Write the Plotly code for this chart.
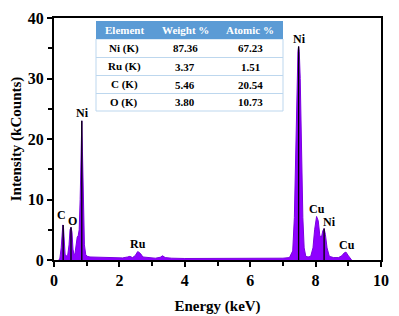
import plotly.graph_objects as go

# Spectrum
energy = [0.15, 0.18, 0.22, 0.25, 0.27, 0.29, 0.31, 0.34, 0.38, 0.42, 0.46, 0.49, 0.52, 0.55,
          0.58, 0.61, 0.64, 0.68, 0.71, 0.74, 0.77, 0.80, 0.83, 0.85, 0.87, 0.90, 0.93, 0.97,
          1.02, 1.10, 1.30, 1.50, 1.70, 1.90, 2.10, 2.25, 2.32, 2.40, 2.48, 2.56, 2.64, 2.72,
          2.90, 3.10, 3.25, 3.32, 3.40, 3.60, 4.00, 4.50, 5.00, 5.50, 5.75, 6.00, 6.50, 7.00,
          7.20, 7.30, 7.35, 7.40, 7.43, 7.46, 7.48, 7.50, 7.53, 7.57, 7.61, 7.65, 7.70, 7.77,
          7.85, 7.92, 7.97, 8.03, 8.08, 8.13, 8.18, 8.22, 8.26, 8.30, 8.35, 8.42, 8.55, 8.70,
          8.80, 8.88, 8.93, 8.99, 9.05, 9.10]
intensity = [0.0, 0.3, 2.0, 5.0, 5.8, 5.4, 3.0, 0.9, 0.7, 0.8, 2.5, 5.0, 5.4, 4.6,
             1.8, 0.9, 1.0, 2.5, 3.8, 4.0, 5.0, 10.0, 19.0, 23.0, 18.0, 8.0, 2.5, 0.9,
             0.6, 0.5, 0.45, 0.4, 0.4, 0.35, 0.35, 0.5, 0.6, 0.4, 0.7, 1.4, 1.1, 0.5,
             0.35, 0.3, 0.45, 0.7, 0.4, 0.3, 0.25, 0.25, 0.25, 0.25, 0.35, 0.25, 0.25, 0.3,
             0.4, 1.5, 7.0, 20.0, 30.0, 34.5, 35.3, 34.5, 30.0, 18.0, 7.0, 2.0, 0.6, 0.5,
             0.6, 2.0, 5.0, 7.2, 6.5, 4.0, 3.8, 4.8, 5.2, 4.2, 2.0, 0.6, 0.4, 0.4,
             0.7, 1.2, 1.3, 0.8, 0.3, 0.0]

# Reference line positions (keV) and heights (kCounts)
stick_energy = [0.28, 0.52, 0.85, 7.48, 8.26]
stick_height = [5.8, 5.4, 23.0, 35.3, 5.2]

# Peak labels
label_text = ["C", "O", "Ni", "Ru", "Ni", "Cu", "Ni", "Cu"]
label_x = [0.23, 0.58, 0.88, 2.58, 7.50, 8.05, 8.42, 8.95]
label_y = [7.4, 6.5, 24.3, 2.6, 36.5, 8.4, 6.2, 2.5]

# Table
table_header = ["Element", "Weight %", "Atomic %"]
table_element = ["Ni (K)", "Ru (K)", "C (K)", "O (K)"]
table_weight = ["87.36", "3.37", "5.46", "3.80"]
table_atomic = ["67.23", "1.51", "20.54", "10.73"]

FONT = "Liberation Serif"
PURPLE = "#8F00FF"

# page offset (body margin) compensation
W, H = 391, 308
ML, MR, MT, MB = 46, 18, 10, 56
PW, PH = W - ML - MR, H - MT - MB
OFF = 8


def px_x(p):  # page pixel -> paper x
    return (p - OFF - ML) / PW


def px_y(p):  # page pixel -> paper y
    return (H - MB - (p - OFF)) / PH


fig = go.Figure()

fig.add_trace(go.Scatter(
    x=energy, y=intensity, mode="lines", fill="tozeroy",
    fillcolor=PURPLE, line=dict(color="#7A00E0", width=1), hoverinfo="skip",
))

sx, sy = [], []
for e, h in zip(stick_energy, stick_height):
    sx += [e, e, None]
    sy += [0, h, None]
fig.add_trace(go.Scatter(x=sx, y=sy, mode="lines",
                         line=dict(color="black", width=1.3), hoverinfo="skip"))

for t, x, y in zip(label_text, label_x, label_y):
    fig.add_annotation(x=x, y=y, text=t, showarrow=False,
                       xanchor="center", yanchor="middle",
                       font=dict(family=FONT, size=12, color="black", weight="bold"))

# ---- table drawn with shapes + annotations ----
col_edges = [96, 152, 218, 283]
row_edges = [21, 39, 57.5, 75.5, 93.5, 111]
columns = [table_element, table_weight, table_atomic]
LINE = "#BDD7EE"

fig.add_shape(type="rect", xref="paper", yref="paper",
              x0=px_x(col_edges[0]), x1=px_x(col_edges[-1]),
              y0=px_y(row_edges[-1]), y1=px_y(row_edges[1]),
              fillcolor="white", line=dict(color=LINE, width=1), layer="above")
fig.add_shape(type="rect", xref="paper", yref="paper",
              x0=px_x(col_edges[0]), x1=px_x(col_edges[-1]),
              y0=px_y(row_edges[1]), y1=px_y(row_edges[0]),
              fillcolor="#5B9BD5", line=dict(width=0), layer="above")
for r in row_edges[2:-1]:
    fig.add_shape(type="line", xref="paper", yref="paper",
                  x0=px_x(col_edges[0]), x1=px_x(col_edges[-1]),
                  y0=px_y(r), y1=px_y(r),
                  line=dict(color=LINE, width=1), layer="above")

for ci, head in enumerate(table_header):
    cx = px_x((col_edges[ci] + col_edges[ci + 1]) / 2)
    fig.add_annotation(xref="paper", yref="paper", x=cx,
                       y=px_y((row_edges[0] + row_edges[1]) / 2),
                       xanchor="center", yanchor="middle",
                       text=head, showarrow=False,
                       font=dict(family=FONT, size=11, color="white", weight="bold"))
    for ri, val in enumerate(columns[ci]):
        fig.add_annotation(xref="paper", yref="paper", x=cx,
                           y=px_y((row_edges[ri + 1] + row_edges[ri + 2]) / 2),
                           xanchor="center", yanchor="middle",
                           text=val, showarrow=False,
                           font=dict(family=FONT, size=11, color="black", weight="bold"))

axis_common = dict(
    showline=True, linecolor="black", linewidth=2, mirror=True,
    ticks="outside", ticklen=5, tickwidth=2, tickcolor="black",
    showgrid=False, zeroline=False, automargin=False,
    tickfont=dict(family=FONT, size=16, color="black", weight="bold"),
)

fig.update_layout(
    width=W, height=H,
    margin=dict(l=ML, r=MR, t=MT, b=MB, autoexpand=False),
    paper_bgcolor="white", plot_bgcolor="white",
    showlegend=False,
    font=dict(family=FONT),
    xaxis=dict(range=[0, 10], dtick=2,
               minor=dict(dtick=1, ticks="outside", ticklen=4, tickwidth=2, tickcolor="black"),
               title=dict(text="Energy (keV)", standoff=12,
                          font=dict(family=FONT, size=15, color="black", weight="bold")),
               **axis_common),
    yaxis=dict(range=[0, 40], dtick=10,
               minor=dict(dtick=5, ticks="outside", ticklen=4, tickwidth=2, tickcolor="black"),
               title=dict(text="Intensity (kCounts)", standoff=6,
                          font=dict(family=FONT, size=15, color="black", weight="bold")),
               **axis_common),
)

fig.write_html("out.html")
